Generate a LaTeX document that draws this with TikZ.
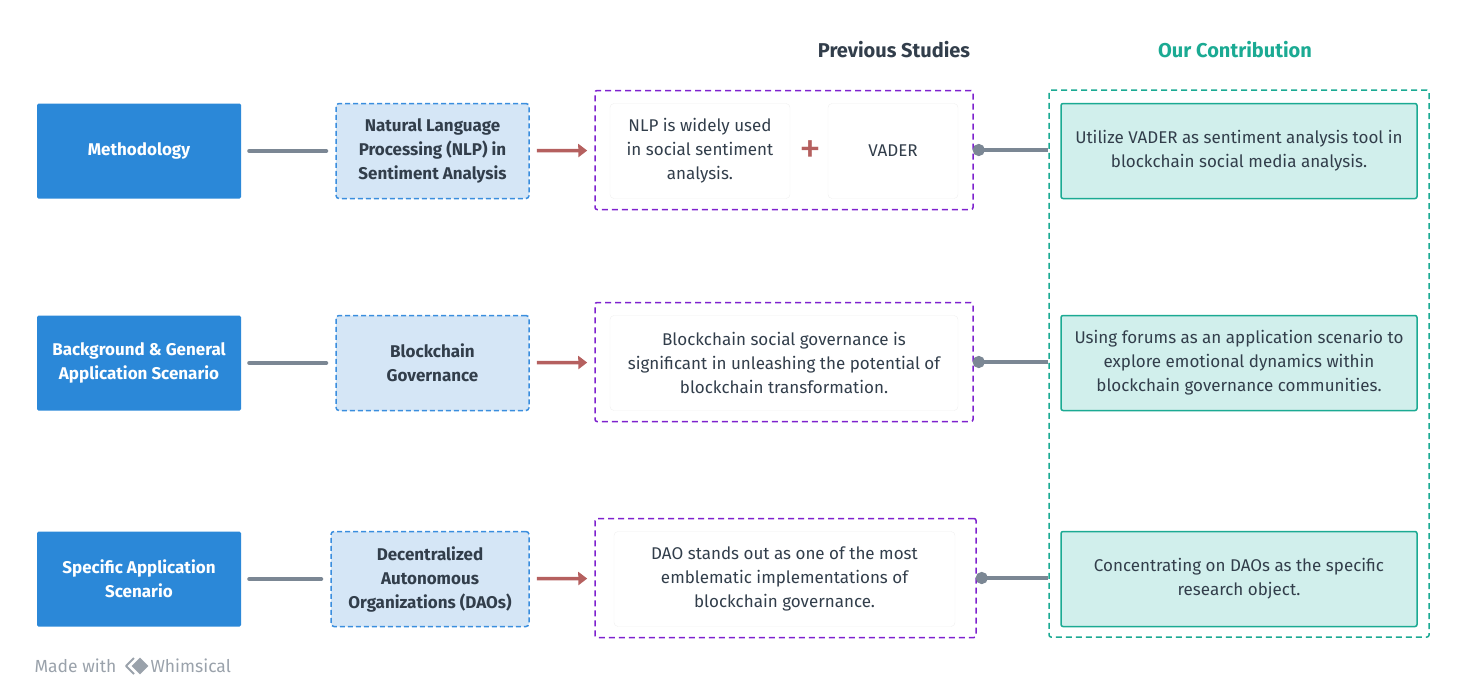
\documentclass[tikz,border=0pt]{standalone}
\usepackage{fontspec}
\setmainfont{Fira Sans}
\usetikzlibrary{positioning,arrows.meta,shapes.geometric}

\definecolor{aspectblue}{HTML}{2B88D8}
\definecolor{topicfill}{HTML}{D5E6F6}
\definecolor{topicline}{HTML}{3A8EDE}
\definecolor{studyline}{HTML}{7E22CE}
\definecolor{ourline}{HTML}{1BAA93}
\definecolor{ourfill}{HTML}{D1EFEC}
\definecolor{linkgray}{HTML}{7B8794}
\definecolor{pushred}{HTML}{B5605F}
\definecolor{inktext}{HTML}{323E4B}
\definecolor{markgray}{HTML}{9AA2AB}

\tikzset{
  aspect/.style={rectangle, rounded corners=1.5pt, fill=aspectblue, text=white,
    font=\fontsize{17}{24}\selectfont\bfseries, align=center,
    minimum width=204pt, minimum height=95pt},
  topic/.style={rectangle, rounded corners=3pt, fill=topicfill, draw=topicline,
    line width=1.5pt, dash pattern=on 5pt off 3pt, text=inktext,
    font=\fontsize{17}{24}\selectfont\bfseries, align=center,
    minimum width=193pt, minimum height=95pt},
  studywrap/.style={rectangle, rounded corners=2pt, draw=studyline,
    line width=1.5pt, dash pattern=on 6pt off 4pt,
    minimum width=378pt, minimum height=119pt},
  note/.style={rectangle, rounded corners=4pt, draw=black!6, fill=white,
    text=inktext, font=\fontsize{17}{24}\selectfont, align=center,
    minimum height=95pt},
  ourwrap/.style={rectangle, rounded corners=2pt, draw=ourline,
    line width=1.5pt, dash pattern=on 6pt off 4pt,
    minimum width=380pt, minimum height=547pt},
  ours/.style={rectangle, rounded corners=2pt, fill=ourfill, draw=ourline,
    line width=1.5pt, text=inktext, font=\fontsize{17}{24}\selectfont,
    align=center, minimum width=356pt, minimum height=95pt},
  heading/.style={font=\fontsize{20}{24}\selectfont\bfseries},
  link/.style={draw=linkgray, line width=4pt, line cap=round},
  push/.style={draw=pushred, line width=3.5pt, -{Triangle[length=9pt,width=13pt]},
    shorten <=7pt, shorten >=7pt},
  dotlink/.style={draw=linkgray, line width=4pt, {Circle[length=12pt]}-,
    shorten <=-1pt},
}

\begin{document}
\begin{tikzpicture}[x=1pt,y=-1pt]
\useasboundingbox (0,0) rectangle (1466,693);

% headings
\node[heading, text=inktext] (prevhead) at (894,50) {Previous Studies};
\node[heading, text=ourline] (ourhead) at (1235,50) {Our Contribution};

% research aspects
\node[aspect] (a1) at (139,151) {Methodology};
\node[aspect] (a2) at (139,363) {Background \& General\\Application Scenario};
\node[aspect] (a3) at (139,579) {Specific Application\\Scenario};

% topics
\node[topic] (t1) at (432.5,151) {Natural Language\\Processing (NLP) in\\Sentiment Analysis};
\node[topic] (t2) at (432.5,363) {Blockchain\\Governance};
\node[topic, minimum width=198pt] (t3) at (430,579) {Decentralized\\Autonomous\\Organizations (DAOs)};

% previous studies
\node[studywrap] (s1) at (784,150) {};
\node[studywrap] (s2) at (784,362) {};
\node[studywrap, minimum width=381pt] (s3) at (785.5,578) {};
\node[note, minimum width=180pt] (n1a) at (700,151) {NLP is widely used\\in social sentiment\\analysis.};
\node[note, minimum width=130pt] (n1b) at (893,151) {VADER};
\node[text=pushred, font=\fontsize{44}{44}\selectfont, inner sep=0pt] (plus) at (810,152) {+};
\node[note, minimum width=348pt] (n2) at (784,363) {Blockchain social governance is\\significant in unleashing the potential of\\blockchain transformation.};
\node[note, minimum width=341pt] (n3) at (784.5,579) {DAO stands out as one of the most\\emblematic implementations of\\blockchain governance.};

% our contribution
\node[ourwrap] (ow) at (1239,363.5) {};
\node[ours] (o1) at (1239,151) {Utilize VADER as sentiment analysis tool in\\blockchain social media analysis.};
\node[ours] (o2) at (1239,363) {Using forums as an application scenario to\\explore emotional dynamics within\\blockchain governance communities.};
\node[ours] (o3) at (1239,579) {Concentrating on DAOs as the specific\\research object.};

% connectors
\foreach \i in {1,2,3} {
  \draw[link, shorten <=8pt, shorten >=9pt] (a\i) -- (t\i);
  \draw[push] (t\i) -- (s\i);
  \draw[dotlink] (s\i.east) -- (ow.west |- s\i.east);
}

% footer
\node[text=markgray, font=\fontsize{17.5}{20}\selectfont, anchor=west] (made) at (31,666) {Made with};
\draw[markgray, line width=1.8pt, line join=round] (134,658) -- (126,666) -- (134,674);
\node[diamond, fill=markgray, minimum width=17pt, minimum height=17pt, inner sep=0pt] (logo) at (140,666) {};
\node[text=markgray, font=\fontsize{17.5}{20}\selectfont, anchor=west] (whim) at (147,666) {Whimsical};
\end{tikzpicture}
\end{document}
